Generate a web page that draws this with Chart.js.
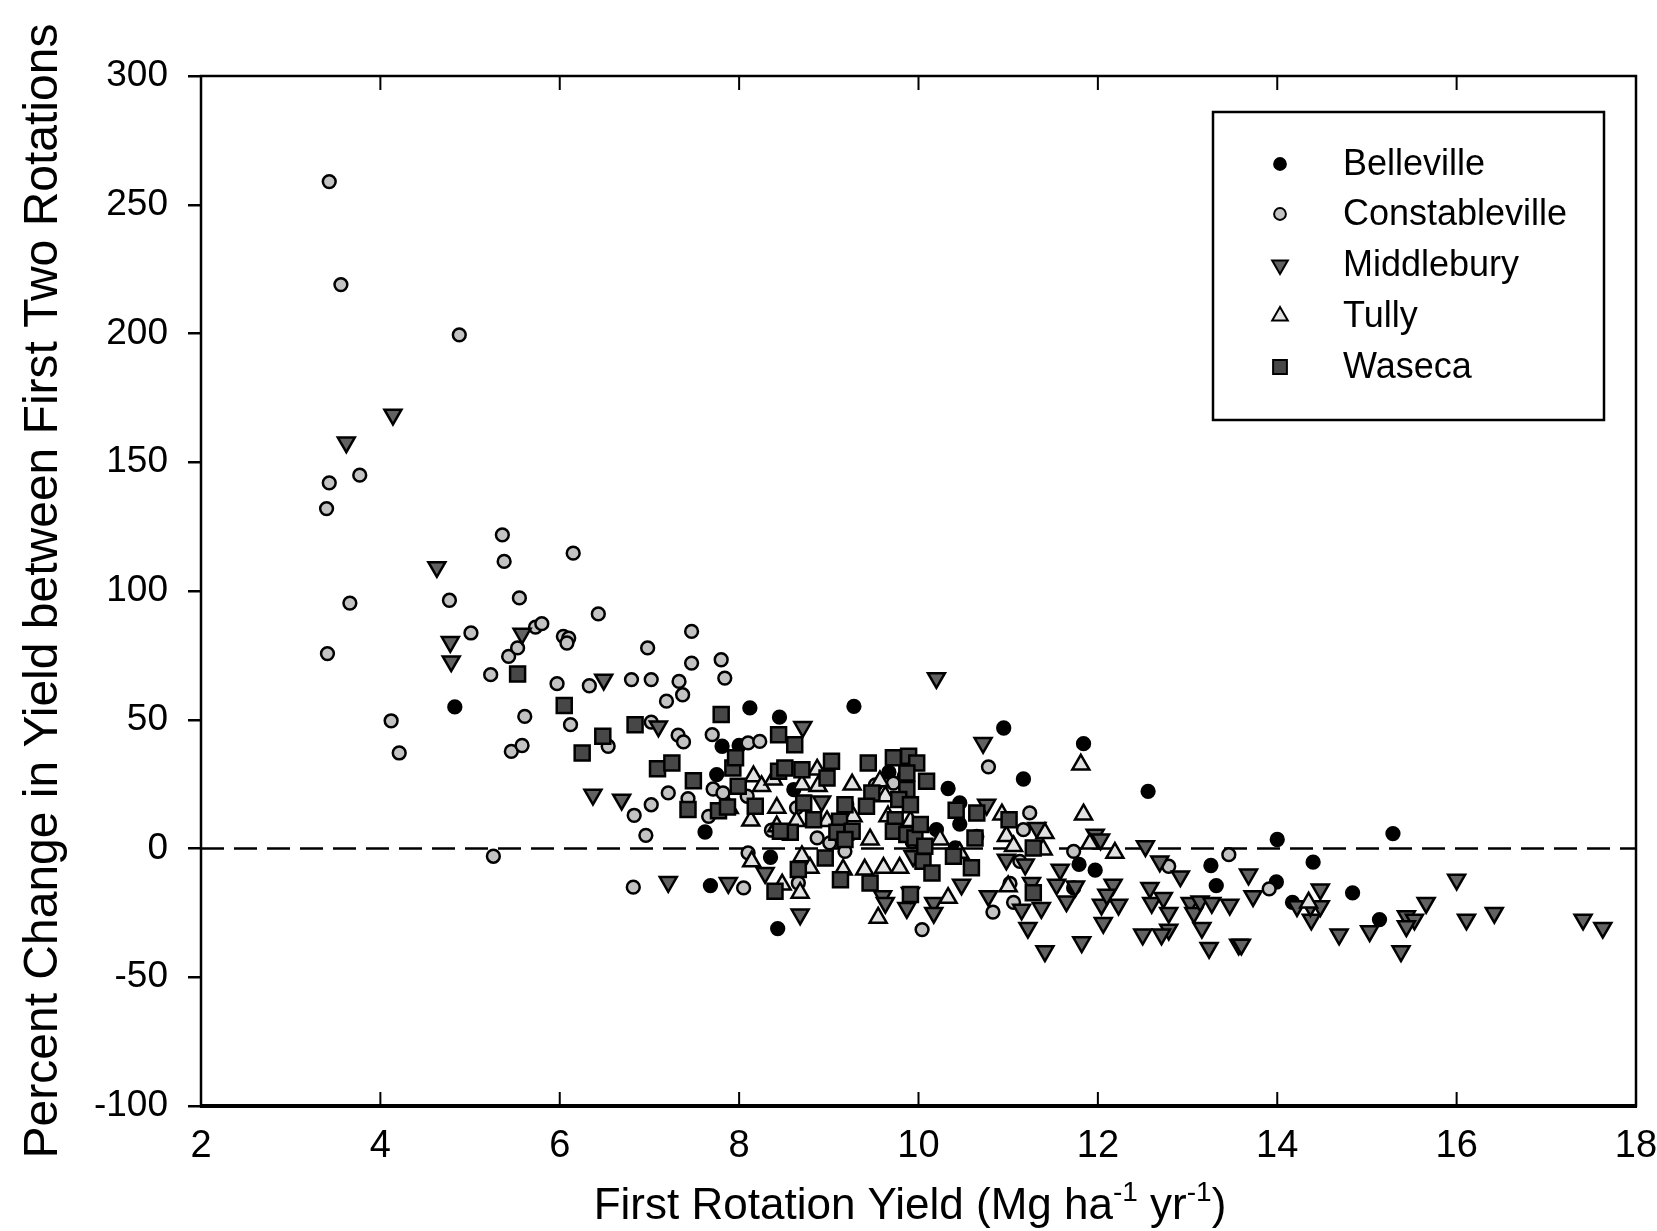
<!DOCTYPE html>
<html>
<head>
<meta charset="utf-8">
<title>First rotation yield vs percent change</title>
<script src="https://cdn.jsdelivr.net/npm/chart.js@4.4.1/dist/chart.umd.min.js"></script>
<style>
  html, body { margin: 0; padding: 0; background: #fff; }
  #wrap { width: 1657px; height: 1231px; }
</style>
</head>
<body>
<div id="wrap"><canvas id="chart" width="1657" height="1231"></canvas></div>
<script>
(function () {
  'use strict';

  // ── data ─────────────────────────────────────────────────────────────────
  const xTicks = [2, 4, 6, 8, 10, 12, 14, 16, 18];
  const yTicks = [-100, -50, 0, 50, 100, 150, 200, 250, 300];
  const zeroLineX = [2, 18];
  const zeroLineY = [0, 0];

  const siteNames = ['Belleville', 'Constableville', 'Middlebury', 'Tully', 'Waseca'];

  const belleville = [
    [4.83, 55], [7.62, 6.4], [7.68, -14.4], [7.75, 28.7], [7.81, 39.7], [8.00, 40], [8.12, 54.6],
    [8.35, -3.4], [8.43, -31.1], [8.45, 51], [8.61, 22.9], [9.28, 55.2], [9.67, 29.6], [10.20, 7.3],
    [10.33, 23.3], [10.46, 17.7], [10.46, 9.5], [10.65, 4.7], [10.41, 0.2], [10.95, 46.8], [11.17, 27],
    [11.84, 40.7], [11.79, -6.2], [11.97, -8.4], [11.73, -15.3], [12.56, 22.2], [13.26, -6.6],
    [13.32, -14.4], [13.99, -13], [14.00, 3.5], [14.17, -20.9], [14.40, -5.3], [14.84, -17.2],
    [15.14, -27.6], [15.29, 5.8]
  ];

  const constableville = [
    [3.43, 259], [3.56, 219], [4.88, 199.5], [3.77, 145], [3.43, 142], [3.40, 132], [3.66, 95.3],
    [3.41, 75.7], [4.12, 49.6], [4.21, 37.1], [5.26, -3], [4.77, 96.4], [5.01, 83.7], [5.36, 121.8],
    [5.38, 111.5], [5.55, 97.3], [5.43, 74.6], [5.53, 77.9], [5.23, 67.5], [5.61, 51.3], [5.46, 37.7],
    [5.58, 40], [5.73, 86], [5.80, 87.3], [5.97, 64], [6.04, 82.4], [6.10, 81.7], [6.08, 79.8],
    [6.12, 48.1], [6.15, 114.7], [6.33, 63.2], [6.43, 91.1], [6.54, 39.7], [6.82, -15], [6.80, 65.6],
    [6.83, 12.9], [6.98, 77.9], [6.96, 5.1], [7.02, 17], [7.02, 65.6], [7.02, 49.1], [7.19, 57.2],
    [7.21, 21.6], [7.32, 44], [7.33, 64.9], [7.37, 59.7], [7.38, 41.4], [7.43, 19.4], [7.47, 72],
    [7.47, 84.3], [7.66, 12.5], [7.70, 44.2], [7.71, 23.1], [7.80, 73.3], [7.82, 21.6], [7.84, 66.2],
    [8.05, -15.3], [8.09, 20.3], [8.10, 41], [8.23, 41.6], [8.10, -1.7], [8.36, 7.1], [8.64, 15.8],
    [8.66, -13.4], [8.87, 4.1], [9.01, 2.2], [9.18, -1.1], [9.20, 17], [9.25, 5.8], [9.52, 24.7],
    [9.72, 25.4], [9.84, 28], [9.93, 2.6], [10.04, -31.5], [10.78, 31.7], [10.83, -24.7],
    [11.06, -20.9], [11.02, -13.6], [11.17, 7.3], [11.24, 13.8], [11.13, -5], [11.73, -1.1],
    [12.79, -6.9], [13.46, -2.4], [13.91, -15.7]
  ];

  const middlebury = [
    [4.14, 168.5], [3.62, 157.7], [4.63, 109.3], [4.78, 80.2], [4.79, 72.7], [5.58, 83.4], [6.49, 65.6],
    [7.10, 47.4], [6.37, 20.9], [6.69, 19], [7.21, -13], [7.88, -13.4], [8.29, -9.5], [8.71, 47.2],
    [8.68, -25.6], [8.92, 18.3], [9.60, -18.5], [9.63, -21.1], [9.87, -23.1], [9.91, -17.2], [9.94, -3],
    [10.17, -21.1], [10.17, -25], [10.20, 66.2], [10.48, -14], [10.72, 41], [10.76, 17], [10.78, -18.5],
    [10.98, -4.3], [11.19, -6.2], [11.15, -23.7], [11.22, -30.8], [11.26, -13.4], [11.32, 8],
    [11.41, -39.9], [11.58, -8.2], [11.54, -14], [11.75, -14.7], [11.65, -20.5], [11.37, -23.1],
    [11.82, -36.4], [11.97, 5.4], [12.03, 3.5], [12.04, -21.8], [12.23, -21.8], [12.06, -28.9],
    [12.17, -14], [12.10, -17.9], [12.53, 0.9], [12.58, -15.3], [12.60, -21.1], [12.69, -5],
    [12.92, -10.8], [12.73, -19.2], [12.79, -25], [12.79, -31.5], [12.71, -33.4], [12.50, -33.4],
    [13.03, -21.1], [13.07, -25], [13.14, -20.5], [13.27, -21.1], [13.16, -30.8], [13.24, -38.6],
    [13.47, -21.8], [13.57, -37.3], [13.60, -37.3], [13.68, -10.1], [13.73, -18.5], [14.22, -22.4],
    [14.38, -27.6], [14.37, -22.4], [14.48, -15.9], [14.48, -22.4], [14.69, -33.4], [15.03, -32.1],
    [15.38, -39.9], [15.44, -26.3], [15.53, -27.6], [15.44, -30.2], [15.66, -21.1], [16.00, -12.1],
    [16.11, -27.6], [16.42, -25], [17.41, -27.6], [17.63, -30.8]
  ];

  const tully = [
    [7.89, 15.7], [8.13, 10.8], [8.16, 28], [8.25, 24.2], [8.38, 26.8], [8.42, 15.8], [8.42, 8.6],
    [8.14, -5], [8.48, -14], [8.70, 24.8], [8.87, 30.6], [8.88, 24.2], [8.64, 10.6], [8.70, -3],
    [8.79, -7.5], [8.68, -17.2], [8.98, 10.6], [9.27, 12.5], [9.16, -8.2], [9.26, 24.8], [9.46, 3.5],
    [9.40, -8.2], [9.61, -7.5], [9.79, -7.5], [9.55, -26.9], [9.57, 26.1], [9.66, 12.5], [9.63, 20.3],
    [9.91, 10.6], [10.24, 3.5], [10.33, -19.2], [10.46, -1.7], [10.93, 13.2], [10.98, 4.8],
    [11.06, 0.9], [11.00, -14.7], [11.39, -0.4], [11.41, 6], [11.81, 32.6], [11.84, 13.2],
    [11.91, 1.9], [12.19, -1.7], [14.35, -21]
  ];

  const waseca = [
    [5.53, 67.8], [6.05, 55.5], [6.48, 43.6], [6.25, 37.1], [6.84, 48.1], [7.09, 31], [7.25, 33.2],
    [7.49, 26.3], [7.43, 15.1], [7.80, 52], [7.93, 31.3], [7.96, 35.2], [7.99, 24.2], [7.77, 14.7],
    [7.87, 16.1], [8.18, 16.4], [8.44, 44.2], [8.62, 40.3], [8.44, 30], [8.51, 31.3], [8.70, 30.6],
    [9.03, 33.9], [8.98, 27.4], [8.72, 17.7], [8.57, 6.3], [8.46, 6.7], [8.83, 11.2], [9.12, 10.6],
    [9.09, 6.3], [9.18, 17], [9.26, 6.7], [9.18, 3.5], [8.96, -3.7], [8.66, -8.2], [8.40, -16.6],
    [9.13, -12.1], [9.44, 33.2], [9.72, 35.2], [9.89, 35.8], [9.98, 33.2], [9.87, 29.3], [9.87, 22.9],
    [9.78, 19], [9.48, 21.6], [9.42, 16.4], [9.91, 17], [9.74, 11.2], [9.72, 6.7], [9.87, 5.4],
    [9.96, 4.1], [10.07, 0.9], [10.09, 26.1], [10.02, 9.3], [10.05, -5], [10.15, -9.5], [10.39, -3],
    [10.59, -7.5], [10.42, 14.9], [10.65, 13.8], [10.63, 4.1], [11.01, 11.2], [11.28, 0.2],
    [11.28, -17.2], [9.46, -13.4], [9.91, -17.9]
  ];

  // ── styling ──────────────────────────────────────────────────────────────
  const FONT = '"Liberation Sans", Arial, Helvetica, sans-serif';

  const SITE_STYLES = [
    { pointStyle: 'circle',   radius: 6.4,  rotation: 0,   fill: '#000000' },
    { pointStyle: 'circle',   radius: 6.4,  rotation: 0,   fill: '#c3c3c3' },
    { pointStyle: 'triangle', radius: 9.8,  rotation: 180, fill: '#626262' },
    { pointStyle: 'triangle', radius: 9.8,  rotation: 0,   fill: '#e2e2e2' },
    { pointStyle: 'rect',     radius: 10.6, rotation: 0,   fill: '#474747' }
  ];
  const siteData = [belleville, constableville, middlebury, tully, waseca];

  const LEGEND_BOX = { left: 1213, top: 112, width: 391, height: 308 };
  const LEGEND_ROWS = [164, 214, 265, 316, 367];
  const LEGEND_MARKER_X = 1280;
  const LEGEND_TEXT_X = 1343;
  const LEGEND_MARKER_SCALE = 0.92;

  function toPoints(pairs) {
    return pairs.map(p => ({ x: p[0], y: p[1] }));
  }

  const siteDatasets = siteNames.map((name, i) => ({
    label: name,
    data: toPoints(siteData[i]),
    pointStyle: SITE_STYLES[i].pointStyle,
    pointRadius: SITE_STYLES[i].radius,
    rotation: SITE_STYLES[i].rotation,
    backgroundColor: SITE_STYLES[i].fill,
    borderColor: '#000000',
    pointBorderWidth: 2.5,
    order: 5 - i
  }));

  const zeroDataset = {
    type: 'line',
    label: 'zero',
    data: zeroLineX.map((x, i) => ({ x: x, y: zeroLineY[i] })),
    borderColor: '#000000',
    borderWidth: 2.5,
    borderDash: [23, 10],
    pointRadius: 0,
    fill: false,
    order: 10
  };

  // ── plugins: frame with inner ticks, boxed legend, x title with superscripts ──
  const framePlugin = {
    id: 'frame',
    afterDraw(chart) {
      const { ctx, chartArea: a, scales } = chart;
      ctx.save();
      ctx.strokeStyle = '#000';
      ctx.lineWidth = 2;
      xTicks.forEach(v => {
        const px = scales.x.getPixelForValue(v);
        ctx.beginPath();
        ctx.moveTo(px, a.bottom); ctx.lineTo(px, a.bottom - 14);
        ctx.moveTo(px, a.top); ctx.lineTo(px, a.top + 14);
        ctx.stroke();
      });
      ctx.lineWidth = 2.5;
      ctx.strokeRect(a.left, a.top, a.right - a.left, a.bottom - a.top);
      ctx.lineWidth = 4;
      ctx.beginPath();
      ctx.moveTo(a.left - 1, a.bottom); ctx.lineTo(a.right + 1, a.bottom);
      ctx.stroke();
      ctx.restore();
    }
  };

  const legendPlugin = {
    id: 'boxLegend',
    afterDraw(chart) {
      const ctx = chart.ctx;
      ctx.save();
      ctx.fillStyle = '#fff';
      ctx.fillRect(LEGEND_BOX.left, LEGEND_BOX.top, LEGEND_BOX.width, LEGEND_BOX.height);
      ctx.lineWidth = 2.5;
      ctx.strokeStyle = '#000';
      ctx.strokeRect(LEGEND_BOX.left, LEGEND_BOX.top, LEGEND_BOX.width, LEGEND_BOX.height);

      siteNames.forEach((name, i) => {
        const st = SITE_STYLES[i];
        const y = LEGEND_ROWS[i];
        ctx.fillStyle = st.fill;
        ctx.strokeStyle = '#000';
        ctx.lineWidth = 2;
        Chart.helpers.drawPoint(ctx, {
          pointStyle: st.pointStyle,
          radius: st.radius * LEGEND_MARKER_SCALE,
          rotation: st.rotation,
          borderWidth: 2
        }, LEGEND_MARKER_X, y);

        ctx.fillStyle = '#000';
        ctx.font = '36px ' + FONT;
        ctx.textAlign = 'left';
        ctx.textBaseline = 'middle';
        ctx.fillText(name, LEGEND_TEXT_X, y + 1);
      });
      ctx.restore();
    }
  };

  const xTitlePlugin = {
    id: 'xTitle',
    afterDraw(chart) {
      const ctx = chart.ctx;
      const parts = [
        { t: 'First Rotation Yield (Mg ha', sup: false },
        { t: '-1', sup: true },
        { t: ' yr', sup: false },
        { t: '-1', sup: true },
        { t: ')', sup: false }
      ];
      const big = '44px ' + FONT;
      const small = '28px ' + FONT;
      ctx.save();
      ctx.fillStyle = '#000';
      ctx.textBaseline = 'alphabetic';
      ctx.textAlign = 'left';
      let total = 0;
      parts.forEach(p => {
        ctx.font = p.sup ? small : big;
        p.w = ctx.measureText(p.t).width;
        total += p.w;
      });
      let x = 910 - total / 2;
      const base = 1219;
      parts.forEach(p => {
        ctx.font = p.sup ? small : big;
        ctx.fillText(p.t, x, p.sup ? base - 18 : base);
        x += p.w;
      });
      ctx.restore();
    }
  };

  // ── chart ────────────────────────────────────────────────────────────────
  const ctx = document.getElementById('chart').getContext('2d');

  new Chart(ctx, {
    type: 'scatter',
    data: { datasets: siteDatasets.concat([zeroDataset]) },
    options: {
      responsive: false,
      animation: false,
      events: [],
      layout: { padding: { top: 76, right: 21, left: 0, bottom: 0 } },
      plugins: {
        legend: { display: false },
        tooltip: { enabled: false }
      },
      scales: {
        x: {
          type: 'linear',
          min: 2,
          max: 18,
          afterBuildTicks: axis => { axis.ticks = xTicks.map(v => ({ value: v })); },
          afterFit: axis => {
            axis.height = 125;
            axis.paddingLeft = 0;
            axis.paddingRight = 0;
          },
          grid: { display: false, drawTicks: false },
          border: { display: false },
          ticks: {
            padding: 18,
            color: '#000',
            maxRotation: 0,
            autoSkip: false,
            font: { family: FONT, size: 38 }
          }
        },
        y: {
          type: 'linear',
          min: -100,
          max: 300,
          afterBuildTicks: axis => { axis.ticks = yTicks.map(v => ({ value: v })); },
          afterFit: axis => { axis.width = 201; },
          grid: {
            drawOnChartArea: false,
            drawTicks: true,
            tickLength: 13,
            lineWidth: 2.5,
            tickWidth: 2.5,
            color: '#000'
          },
          border: { display: false },
          ticks: {
            padding: 20,
            color: '#000',
            autoSkip: false,
            font: { family: FONT, size: 37 }
          },
          title: {
            display: true,
            text: 'Percent Change in Yield between First Two Rotations',
            color: '#000',
            font: { family: FONT, size: 48 },
            padding: { top: 15, bottom: 0 }
          }
        }
      }
    },
    plugins: [framePlugin, legendPlugin, xTitlePlugin]
  });
})();
</script>
</body>
</html>
